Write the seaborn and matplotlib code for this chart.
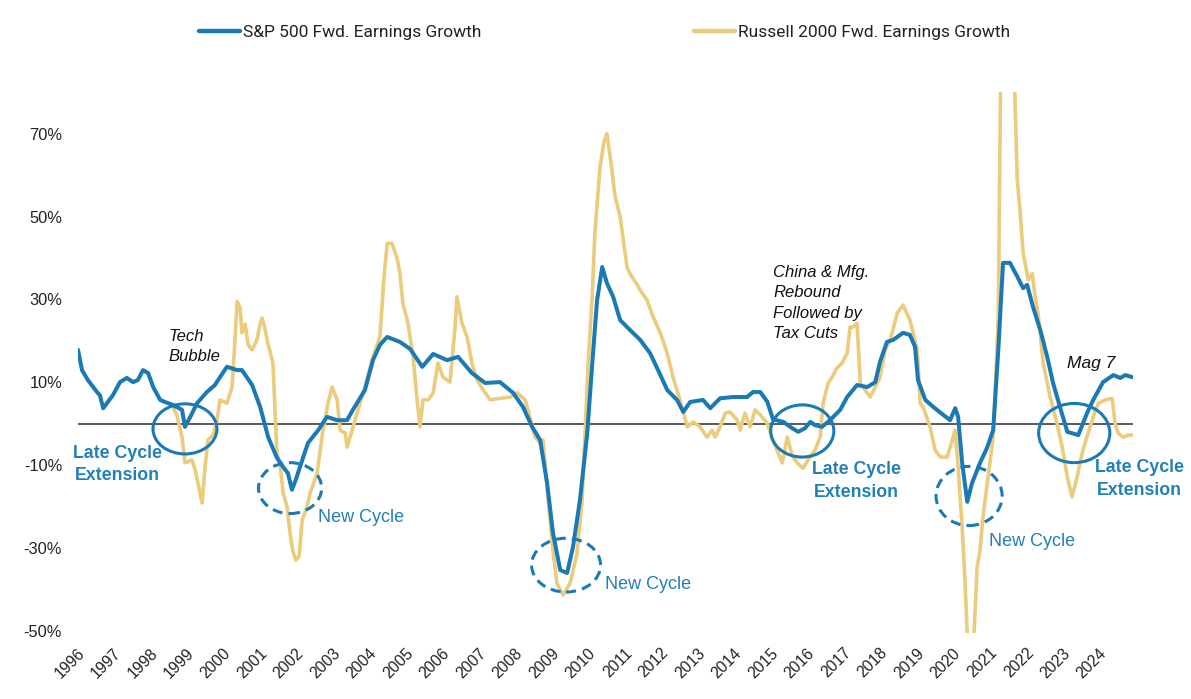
import matplotlib
matplotlib.use("Agg")
import matplotlib.pyplot as plt
import seaborn as sns
import pandas as pd
from matplotlib.patches import Ellipse
from matplotlib.lines import Line2D

# ---------------- data ----------------
sp_years = [1995.89, 1996.00, 1996.16, 1996.41, 1996.49, 1996.58, 1996.85, 1997.04, 1997.23, 1997.40,
            1997.53, 1997.67, 1997.81, 1997.95, 1998.14, 1998.27, 1998.49, 1998.74, 1998.82, 1998.96,
            1999.15, 1999.42, 1999.64, 1999.84, 1999.97, 2000.25, 2000.38, 2000.66, 2000.88, 2001.10,
            2001.34, 2001.51, 2001.64, 2001.75, 2001.86, 2001.97, 2002.19, 2002.47, 2002.71, 2002.99,
            2003.26, 2003.42, 2003.75, 2003.97, 2004.16, 2004.36, 2004.71, 2004.99, 2005.32, 2005.62,
            2006.00, 2006.30, 2006.68, 2007.04, 2007.45, 2007.81, 2008.08, 2008.33, 2008.55, 2008.74,
            2008.90, 2009.10, 2009.29, 2009.45, 2009.64, 2009.84, 2009.97, 2010.11, 2010.25, 2010.38,
            2010.55, 2010.74, 2011.01, 2011.29, 2011.56, 2011.78, 2012.03, 2012.30, 2012.47, 2012.66,
            2013.01, 2013.21, 2013.48, 2013.84, 2014.22, 2014.38, 2014.58, 2014.77, 2014.93, 2015.21,
            2015.45, 2015.62, 2015.81, 2015.95, 2016.08, 2016.27, 2016.49, 2016.77, 2016.96, 2017.23,
            2017.51, 2017.73, 2017.86, 2018.05, 2018.22, 2018.49, 2018.68, 2018.82, 2018.90, 2019.10,
            2019.32, 2019.59, 2019.78, 2019.92, 2020.00, 2020.11, 2020.25, 2020.38, 2020.60, 2020.79,
            2020.96, 2021.10, 2021.23, 2021.42, 2021.62, 2021.78, 2021.89, 2022.05, 2022.25, 2022.44,
            2022.60, 2022.79, 2022.99, 2023.29, 2023.53, 2023.70, 2023.97, 2024.25, 2024.44, 2024.58,
            2024.77]
sp_growth = [17.8, 12.9, 10.5, 7.6, 6.8, 3.7, 6.9, 10.0, 11.0, 10.0,
             10.5, 12.9, 12.2, 8.8, 5.7, 5.2, 4.5, 3.3, -0.8, 1.5,
             4.9, 7.6, 9.3, 12.0, 13.7, 12.9, 12.9, 9.3, 4.0, -3.3,
             -8.3, -10.5, -12.0, -16.0, -13.5, -10.5, -4.7, -1.6, 1.6, 0.8,
             0.8, 3.3, 8.1, 15.3, 19.0, 20.9, 19.7, 18.0, 13.7, 16.8,
             15.3, 16.1, 12.2, 9.8, 10.0, 7.4, 4.0, -0.8, -4.0, -14.4,
             -26.4, -35.4, -36.1, -29.8, -18.5, -2.3, 13.7, 29.8, 37.8, 33.9,
             30.6, 25.0, 22.6, 20.2, 17.0, 12.9, 8.1, 5.7, 2.8, 5.2,
             5.7, 3.7, 6.1, 6.4, 6.4, 7.6, 7.6, 5.3, 1.0, 0.4,
             -1.1, -2.0, -1.1, 0.4, -0.4, -0.8, 0.8, 3.3, 6.4, 9.3,
             8.8, 10.0, 14.9, 19.7, 20.2, 21.9, 21.4, 18.5, 10.5, 5.7,
             4.0, 2.1, 0.8, 3.7, 1.6, -9.5, -18.9, -14.4, -9.5, -5.9,
             -1.6, 17.8, 38.8, 38.8, 35.5, 32.7, 33.5, 28.2, 22.6, 16.1,
             9.8, 4.0, -2.0, -2.8, 2.5, 5.7, 10.0, 11.7, 11.0, 11.7,
             11.2]

r2k_years = [1998.49, 1998.60, 1998.74, 1998.82, 1999.01, 1999.10, 1999.29, 1999.37, 1999.45, 1999.59,
             1999.70, 1999.78, 1999.97, 2000.11, 2000.19, 2000.25, 2000.33, 2000.38, 2000.47, 2000.55,
             2000.66, 2000.79, 2000.88, 2000.93, 2001.01, 2001.07, 2001.23, 2001.34, 2001.42, 2001.51,
             2001.62, 2001.70, 2001.78, 2001.86, 2001.95, 2002.03, 2002.16, 2002.25, 2002.44, 2002.60,
             2002.74, 2002.85, 2002.99, 2003.07, 2003.21, 2003.26, 2003.40, 2003.56, 2003.75, 2003.97,
             2004.16, 2004.27, 2004.36, 2004.49, 2004.63, 2004.71, 2004.79, 2004.93, 2005.07, 2005.18,
             2005.26, 2005.34, 2005.48, 2005.62, 2005.75, 2005.89, 2006.08, 2006.22, 2006.27, 2006.41,
             2006.55, 2006.68, 2006.82, 2006.99, 2007.18, 2007.45, 2007.73, 2007.92, 2008.14, 2008.27,
             2008.41, 2008.55, 2008.63, 2008.77, 2008.90, 2009.01, 2009.18, 2009.37, 2009.56, 2009.70,
             2009.78, 2009.86, 2009.97, 2010.05, 2010.19, 2010.30, 2010.38, 2010.49, 2010.60, 2010.74,
             2010.93, 2011.01, 2011.21, 2011.29, 2011.48, 2011.64, 2011.84, 2012.03, 2012.19, 2012.38,
             2012.58, 2012.74, 2012.93, 2013.12, 2013.26, 2013.34, 2013.48, 2013.62, 2013.75, 2013.95,
             2014.03, 2014.16, 2014.30, 2014.44, 2014.58, 2014.77, 2014.93, 2015.04, 2015.18, 2015.32,
             2015.45, 2015.59, 2015.75, 2015.89, 2016.08, 2016.22, 2016.30, 2016.44, 2016.55, 2016.68,
             2016.82, 2016.96, 2017.04, 2017.12, 2017.23, 2017.32, 2017.45, 2017.59, 2017.73, 2017.86,
             2018.00, 2018.14, 2018.33, 2018.49, 2018.68, 2018.88, 2018.96, 2019.04, 2019.23, 2019.37,
             2019.51, 2019.70, 2019.84, 2019.92, 2020.00, 2020.11, 2020.19, 2020.27, 2020.36, 2020.44,
             2020.52, 2020.60, 2020.68, 2020.82, 2020.96, 2021.10, 2021.16, 2021.34, 2021.52, 2021.62,
             2021.70, 2021.78, 2021.92, 2022.03, 2022.11, 2022.19, 2022.33, 2022.52, 2022.71, 2022.85,
             2022.99, 2023.12, 2023.26, 2023.34, 2023.42, 2023.56, 2023.70, 2023.84, 2024.03, 2024.22,
             2024.30, 2024.38, 2024.52, 2024.66, 2024.77]
r2k_growth = [4.0, 2.0, -3.3, -9.5, -8.8, -11.2, -19.2, -10.5, -4.0, -2.8,
              0.8, 5.7, 4.9, 8.8, 20.0, 29.5, 28.0, 21.9, 24.0, 19.0,
              17.8, 20.2, 24.0, 25.5, 23.0, 20.2, 14.6, -7.2, -9.5, -16.8,
              -20.2, -26.6, -31.0, -33.0, -32.0, -23.3, -20.2, -16.8, -12.0, -1.6,
              4.9, 8.8, 5.7, -1.6, -2.3, -5.7, -1.6, 3.3, 8.8, 16.1,
              20.9, 35.0, 43.5, 43.5, 40.0, 36.2, 29.0, 24.2, 16.1, 5.7,
              -0.8, 5.7, 5.7, 7.4, 14.6, 11.2, 10.0, 23.3, 30.6, 24.2,
              20.9, 14.6, 10.5, 8.1, 5.7, 6.1, 6.4, 7.4, 5.7, 1.6,
              -3.3, -4.7, -4.0, -18.5, -30.6, -38.6, -41.4, -38.6, -31.4, -18.5,
              -2.3, 13.7, 29.8, 46.0, 62.0, 68.0, 70.0, 63.0, 55.0, 49.9,
              37.8, 36.2, 33.5, 32.2, 29.8, 25.8, 21.9, 17.0, 11.2, 5.7,
              -0.8, 0.4, -0.8, -3.3, -1.6, -3.3, -0.8, 2.5, 2.8, 0.8,
              -1.6, 2.5, -0.8, 3.3, 2.1, 0.0, -4.0, -6.4, -9.5, -3.3,
              -7.6, -9.5, -10.8, -8.8, -6.4, -3.3, 4.9, 9.8, 11.2, 13.4,
              14.6, 17.0, 23.3, 23.3, 24.2, 9.8, 8.1, 6.4, 8.8, 11.2,
              17.8, 20.2, 26.6, 28.6, 25.0, 17.8, 4.9, 4.0, -0.8, -6.4,
              -8.1, -8.1, -4.0, -1.6, -10.5, -25.0, -38.6, -55.0, -65.0, -50.0,
              -34.7, -30.6, -22.5, -12.9, -3.3, 25.8, 80.0, 150.0, 90.0, 58.8,
              50.8, 41.2, 34.7, 36.2, 30.6, 26.6, 14.6, 6.4, 0.0, -5.7,
              -12.9, -17.7, -12.9, -9.5, -6.4, -2.3, 1.6, 4.9, 5.7, 6.1,
              0.0, -2.3, -3.3, -2.8, -2.8]

year_ticks = list(range(1996, 2025))
pct_ticks = [-50, -30, -10, 10, 30, 50, 70]
series_labels = ["S&P 500 Fwd. Earnings Growth", "Russell 2000 Fwd. Earnings Growth"]

# ---------------- style ----------------
BLUE = "#1B7AB3"
GOLD = "#EBCB7C"
TEXT_BLUE = "#2180B8"

sns.set_theme(style="white")
plt.rcParams["font.family"] = ["Liberation Sans", "DejaVu Sans"]

fig = plt.figure(figsize=(11.91, 6.99), dpi=100)
ax = fig.add_axes([78 / 1191, 1 - 632.6 / 699, (1133 - 78) / 1191, (632.6 - 92.3) / 699])

sp_df = pd.DataFrame({"year": sp_years, "growth": sp_growth})
r2k_df = pd.DataFrame({"year": r2k_years, "growth": r2k_growth})

ax.axhline(0, color="#3c3c3c", lw=1.2, zorder=1)
sns.lineplot(data=r2k_df, x="year", y="growth", ax=ax, color=GOLD, lw=2.6, zorder=2)
sns.lineplot(data=sp_df, x="year", y="growth", ax=ax, color=BLUE, lw=2.9, zorder=3)

ax.set_xlim(1995.89, 2024.79)
ax.set_ylim(-50.5, 80)
ax.set_xlabel("")
ax.set_ylabel("")
for s in ax.spines.values():
    s.set_visible(False)
ax.grid(False)

ax.set_yticks(pct_ticks)
ax.set_yticklabels([f"{v}%" for v in pct_ticks], fontsize=11.8, color="#222222")
ax.set_xticks(year_ticks)
ax.set_xticklabels([str(y) for y in year_ticks], fontsize=11.3, color="#222222",
                   rotation=45, ha="right", va="center", rotation_mode="anchor")
ax.tick_params(axis="y", length=0, pad=11.5)
ax.tick_params(axis="x", length=0, pad=13)

# ---------------- annotations ----------------
solid = dict(fill=False, ec=BLUE, lw=2.2, zorder=4)
dashed = dict(fill=False, ec=BLUE, lw=2.2, ls=(0, (3.3, 2.0)), zorder=4)
ax.add_patch(Ellipse((1998.82, -1.3), 1.75, 12.1, **solid))
ax.add_patch(Ellipse((2001.70, -15.6), 1.73, 12.3, **dashed))
ax.add_patch(Ellipse((2009.26, -34.2), 1.89, 13.0, **dashed))
ax.add_patch(Ellipse((2015.73, -1.8), 1.73, 12.6, **solid))
ax.add_patch(Ellipse((2020.30, -17.5), 1.81, 14.3, **dashed))
ax.add_patch(Ellipse((2023.18, -2.3), 1.95, 14.3, **solid))

late_kw = dict(color=TEXT_BLUE, fontsize=12.8, fontweight="bold", ha="center", va="center",
               linespacing=1.45, clip_on=False)
ax.text(1996.96, -9.9, "Late Cycle\nExtension", **late_kw)
ax.text(2017.21, -13.8, "Late Cycle\nExtension", **late_kw)
ax.text(2024.96, -13.3, "Late Cycle\nExtension", **late_kw)

new_kw = dict(color=TEXT_BLUE, fontsize=13, ha="left", va="center")
ax.text(2002.47, -22.8, "New Cycle", **new_kw)
ax.text(2010.33, -39.0, "New Cycle", **new_kw)
ax.text(2020.85, -28.4, "New Cycle", **new_kw)

it_kw = dict(color="#111111", fontsize=12, fontstyle="italic", ha="left", va="center", linespacing=1.45)
ax.text(1998.38, 18.6, "Tech\nBubble", **it_kw)
ax.text(2014.93, 29.1, "China & Mfg.\nRebound\nFollowed by\nTax Cuts", **it_kw)
ax.text(2022.99, 14.6, "Mag 7", **dict(it_kw, fontsize=12.5))

# ---------------- legend ----------------
handles = [Line2D([], [], color=BLUE, lw=3.2, solid_capstyle="round"),
           Line2D([], [], color=GOLD, lw=3.2, solid_capstyle="round")]
fig.legend(handles, series_labels, loc="center left", bbox_to_anchor=(199 / 1191, 1 - 32 / 699),
           ncol=2, frameon=False, borderpad=0, borderaxespad=0, handlelength=2.36,
           handletextpad=0.2, columnspacing=12.2,
           prop={"family": ["Roboto", "DejaVu Sans"], "size": 12.5})
for t in fig.legends[0].get_texts():
    t.set_color("#222222")

fig.savefig("out.png", dpi=100)
